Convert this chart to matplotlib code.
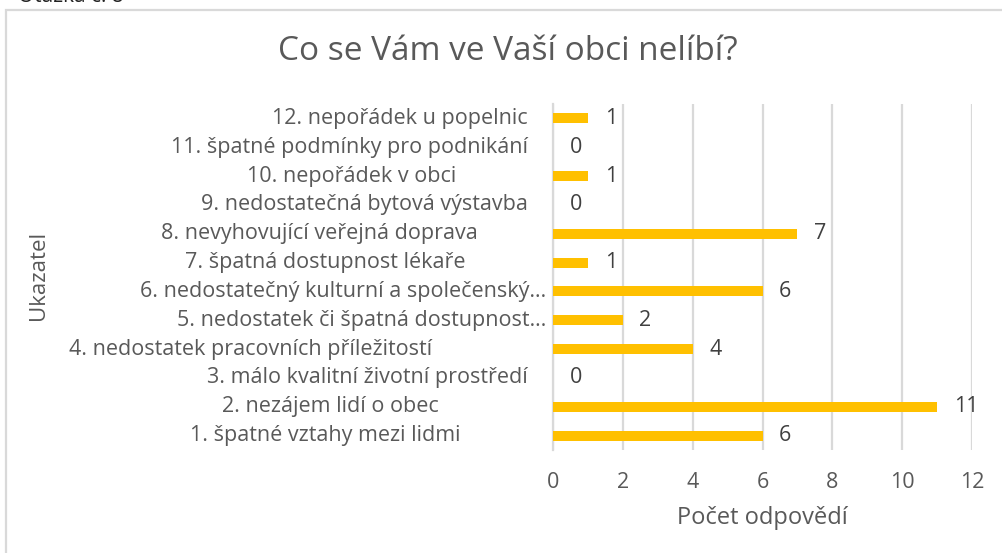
import numpy as np
import matplotlib.pyplot as plt
import matplotlib.transforms as mtransforms
from matplotlib.patches import Rectangle

plt.rcParams['font.family'] = ['Open Sans', 'DejaVu Sans']

# data (bottom to top as in the chart)
categories = ['1. špatné vztahy mezi lidmi',
              '2. nezájem lidí o obec',
              '3. málo kvalitní životní prostředí',
              '4. nedostatek pracovních příležitostí',
              '5. nedostatek či špatná dostupnost…',
              '6. nedostatečný kulturní a společenský…',
              '7. špatná dostupnost lékaře',
              '8. nevyhovující veřejná doprava',
              '9. nedostatečná bytová výstavba',
              '10. nepořádek v obci',
              '11. špatné podmínky pro podnikání',
              '12. nepořádek u popelnic']
counts = [6, 11, 0, 4, 2, 6, 1, 7, 0, 1, 0, 1]
xticks = [0, 2, 4, 6, 8, 10, 12]

# right edges of the category labels in pixels (Excel's uneven layout)
label_right = [461, 439, 528, 432, 546, 546, 466, 478, 528, 456, 528, 528]

W, H = 1003, 553
grey = '#595959'
gold = '#FFC000'
gridc = '#D9D9D9'
fs = 15.5

fig = plt.figure(figsize=(W/100, H/100), dpi=100)
ax = fig.add_axes([553/W, 1-450/H, (972-553)/W, (450-104)/H])

y = np.arange(len(categories))
ax.barh(y, counts, height=0.35, color=gold, zorder=3)
ax.set_xlim(0, 12)
ax.set_ylim(-0.5, len(categories)-0.5)
ax.set_xticks(xticks)
ax.set_xticklabels([str(t) for t in xticks], fontsize=fs, color=grey)
ax.tick_params(axis='x', length=0, pad=16)
ax.set_yticks([])
ax.xaxis.grid(True, color=gridc, linewidth=1.6, zorder=0)
for s in ['top', 'right', 'bottom']:
    ax.spines[s].set_visible(False)
ax.spines['left'].set_color(gridc)
ax.spines['left'].set_linewidth(1.6)

for yi, v in zip(y, counts):
    ax.annotate(str(v), (v, yi), xytext=(12, 0), textcoords='offset points',
                va='center', ha='left', fontsize=fs, color='#404040')

blend = mtransforms.blended_transform_factory(fig.transFigure, ax.transData)
for yi, lab, rx in zip(y, categories, label_right):
    ax.text(rx/W, yi, lab, transform=blend, ha='right', va='center',
            fontsize=fs, color=grey)

ax.set_xlabel('Počet odpovědí', fontsize=17, color=grey, labelpad=9)
fig.text(39/W, 1-275/H, 'Ukazatel', rotation=90, ha='center', va='center',
         fontsize=16, color=grey)
fig.text(508/W, 1-52/H, 'Co se Vám ve Vaší obci nelíbí?', ha='center',
         va='center', fontsize=24, color=grey)

# chart frame and clipped caption above it
fig.add_artist(Rectangle((6/W, -0.1), (W-4)/W, 1.1-10/H, transform=fig.transFigure,
                         fill=False, edgecolor=gridc, linewidth=1.6))
fig.text(18/W, 1-2/H, 'Otázka č. 8', ha='left', va='baseline',
         fontsize=15, color='#222222')

plt.savefig('out.png', dpi=100)
